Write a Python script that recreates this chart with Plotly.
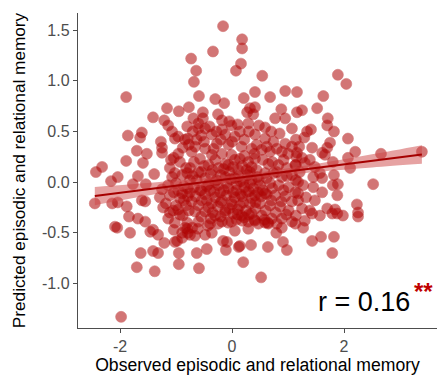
import plotly.graph_objects as go

# ---- data (observed x, predicted y) ----
top_obs = [-0.16, 0.18, 0.18, -0.34, -0.73, 0.16, 0.07, -0.64, -0.68, 0.54, 1.89, 2.04, -1.89, 0.41, 0.95,
           1.16, 1.63, -0.59, -0.30, -0.14, 0.21, 0.68, -0.77, -1.16, -0.95, 0.32, 0.41, 0.27, 0.38, 0.88,
           1.16, 1.25, 1.52, -0.52, -0.25, 0.77, 0.95, -0.52, -0.18, -1.41, -1.21, 1.71, -0.69]
top_pred = [1.54, 1.41, 1.32, 1.29, 1.22, 1.17, 1.10, 1.10, 0.99, 1.05, 1.06, 0.97, 0.84, 0.89, 0.90,
            0.89, 0.85, 0.85, 0.82, 0.78, 0.83, 0.84, 0.74, 0.73, 0.70, 0.73, 0.74, 0.69, 0.67, 0.72,
            0.69, 0.71, 0.73, 0.69, 0.67, 0.63, 0.63, 0.63, 0.61, 0.64, 0.61, 0.63, 0.63]

right_obs = [1.70, 1.82, 1.34, 1.41, 1.29, 2.07, 1.75, 1.70, 1.43, 2.20, 1.61, 1.66, 1.16, 1.25, 1.30,
             1.39, 1.80, 2.07, 2.11, 2.66, 1.48, 1.57, 1.61, 1.45, 1.82, 2.52, 1.89, 1.80, 1.45, 1.18,
             1.61, 1.88, 1.48, 2.23, 1.25, 1.39, 1.43, 1.70, 1.84, 1.79, 1.88, 1.57, 1.98, 2.25, 2.25,
             3.39, 1.27, 1.43, 1.59, 1.82, 1.79,
             1.14, 1.20, 1.14, 1.21, 1.14, 1.27, 1.18, 1.32, 1.14, 1.30]
right_pred = [0.56, 0.50, 0.50, 0.52, 0.44, 0.43, 0.39, 0.34, 0.34, 0.30, 0.29, 0.27, 0.29, 0.24, 0.19,
              0.22, 0.20, 0.24, 0.14, 0.28, 0.15, 0.09, 0.04, 0.05, 0.07, -0.02, -0.02, -0.03, -0.05, -0.11,
              -0.10, -0.13, -0.18, -0.22, -0.26, -0.28, -0.31, -0.26, -0.27, -0.31, -0.31, -0.33, -0.33, -0.30, -0.34,
              0.30, -0.45, -0.58, -0.54, -0.54, -0.70,
              0.42, 0.35, 0.17, 0.10, 0.02, -0.03, -0.18, -0.15, -0.33, -0.38]

bottom_obs = [-0.63, -0.45, -0.59, -0.16, -0.09, -0.11, 0.12, 0.14, 0.34, 0.20, 0.52, 0.64, 0.79, 0.89, 0.91,
              0.98, 1.13, 0.64, 0.59, -0.48,
              -0.84, -0.71, -0.61, -0.43, -0.25, -0.07, 0.18, 0.41, -0.36, 0.05, 0.29, -0.79, -0.66,
              -1.98, -1.70, -1.38, -1.63, -1.41, -1.32, -0.95, -0.95, -1.82, -2.09, -2.05, -1.46, -1.41, -1.32,
              -1.21, -1.02, -0.98, -1.04, -0.89, -0.80, -0.75, -0.89]
bottom_pred = [-0.70, -0.66, -0.85, -0.58, -0.59, -0.67, -0.64, -0.63, -0.62, -0.79, -0.94, -0.64, -0.50, -0.45, -0.59,
               -0.67, -0.41, -0.40, -0.40, -0.52,
               -0.45, -0.45, -0.46, -0.43, -0.41, -0.40, -0.38, -0.38, -0.50, -0.48, -0.46, -0.50, -0.53,
               -1.33, -0.84, -0.88, -0.70, -0.68, -0.70, -0.70, -0.81, -0.50, -0.44, -0.45, -0.49, -0.47, -0.52,
               -0.60, -0.59, -0.58, -0.47, -0.50, -0.46, -0.52, -0.55]

left_obs = [-1.14, -1.07, -0.80, -1.86, -1.64, -1.61, -1.27, -1.25, -1.25, -1.02, -0.96, -0.84, -0.79, -1.70, -1.52,
            -0.96, -1.04, -1.89, -1.59, -2.32, -2.43, -1.11, -1.02, -1.07, -1.39, -1.68, -2.04, -2.16, -1.77, -1.54,
            -0.89, -0.80, -0.75, -1.25, -1.29, -1.04, -0.89, -0.79, -2.04, -2.14, -1.88, -2.45, -1.61, -1.55, -1.23,
            -1.05, -0.96, -1.84, -1.68, -1.55, -1.14, -1.02, -0.88, -0.80,
            -1.14, -1.00, -0.86, -1.11, -0.93, -0.79, -1.18, -1.00, -0.82, -1.11, -0.93, -0.77, -0.82, -0.93,
            -0.88, -0.77, -0.96, -1.09, -0.86]
left_pred = [0.56, 0.50, 0.55, 0.46, 0.44, 0.49, 0.40, 0.34, 0.29, 0.43, 0.45, 0.42, 0.43, 0.31, 0.28,
             0.28, 0.24, 0.21, 0.19, 0.15, 0.10, 0.14, 0.09, 0.05, 0.08, 0.06, 0.05, 0.01, -0.02, -0.02,
             0.07, 0.09, 0.02, -0.07, -0.15, -0.10, -0.11, -0.06, -0.20, -0.21, -0.24, -0.21, -0.18, -0.19, -0.25,
             -0.28, -0.27, -0.34, -0.36, -0.39, -0.36, -0.40, -0.33, -0.40,
             -0.03, -0.01, -0.04, -0.13, -0.16, -0.14, -0.21, -0.23, -0.23, -0.30, -0.32, -0.28, 0.14, 0.20,
             0.34, 0.37, -0.08, 0.22, -0.18]

center_obs = [-0.60, 0.59, 0.29, -0.01, -0.18, -0.48, -0.60, -0.63, -0.36, -0.12, 0.05, 0.14, 0.41, 0.44, 0.59,
              0.74, 0.95, 1.07, 0.89, 0.68, 0.53, 0.35, 0.17, -0.065, -0.27, -0.48, -0.66, -0.57, -0.36, -0.18,
              -0.01, 0.14, 0.29, 0.41, 0.65, 0.83, 0.98, 1.13, 1.15, 1.07, -0.75, -0.60, -0.42, -0.24, -0.065,
              0.11, 0.26, 0.44, 0.59, 0.74, 0.89, 1.07, 1.18, -0.63, -0.48, -0.30, -0.12, 0.05, 0.20, 0.35,
              0.50, 0.68, 0.83, 1.01, 1.13, -0.75, -0.57, -0.39, -0.21, -0.065, 0.08, 0.26, 0.41, 0.59, 0.77,
              0.95, 1.07, -0.72, -0.54, -0.36, -0.18, -0.01, 0.14, 0.32, 0.50, 0.68, 0.86, 1.01, -0.66, -0.48,
              -0.30, -0.12, 0.02, 0.17, 0.35, 0.53, 0.71, 0.89, 1.07, -0.60, -0.39, -0.18, -0.01, 0.29, 0.47,
              0.65]
center_pred = [0.53, 0.54, 0.58, 0.56, 0.52, 0.53, 0.58, 0.42, 0.47, 0.47, 0.45, 0.50, 0.47, 0.37, 0.43,
               0.40, 0.38, 0.35, 0.30, 0.30, 0.32, 0.33, 0.35, 0.37, 0.38, 0.33, 0.35, 0.23, 0.27, 0.28,
               0.27, 0.23, 0.20, 0.23, 0.18, 0.17, 0.14, 0.17, 0.25, 0.53, 0.14, 0.10, 0.17, 0.14, 0.17,
               0.12, 0.12, 0.12, 0.09, 0.09, 0.05, 0.07, 0.00, 0.02, 0.04, 0.00, 0.05, 0.04, 0.00, 0.02,
               -0.03, -0.01, -0.03, -0.05, -0.10, -0.10, -0.08, -0.08, -0.10, -0.06, -0.08, -0.10, -0.13, -0.11, -0.13,
               -0.14, -0.19, -0.19, -0.18, -0.21, -0.18, -0.19, -0.23, -0.21, -0.21, -0.23, -0.24, -0.28, -0.29, -0.29,
               -0.33, -0.28, -0.31, -0.33, -0.31, -0.33, -0.36, -0.36, -0.39, -0.39, -0.41, -0.39, -0.39, -0.39, -0.41,
               -0.41]

core_obs = [-0.70, -0.55, -0.40, -0.28, -0.05, 0.10, 0.30, 0.48, 0.70, 0.85,
            -0.72, -0.50, -0.33, -0.20, 0.00, 0.22, 0.40, 0.62, 0.80, 1.00,
            -0.68, -0.50, -0.30, -0.12, 0.05, 0.22, 0.35, 0.55, 0.72, 0.92,
            -0.70, -0.55, -0.38, -0.20, -0.05, 0.12, 0.28, 0.45, 0.62, 0.80, 0.98,
            -0.68, -0.45, -0.25, -0.10, 0.08, 0.22, 0.38, 0.55, 0.72, 0.92,
            -0.65, -0.48, -0.30, -0.10, 0.05, 0.18, 0.35, 0.52, 0.70, 0.88,
            -0.60, -0.42, -0.25, -0.05, 0.10, 0.25, 0.42, 0.60, 0.78, 0.97,
            -0.55, -0.38, -0.20, 0.08, 0.22, 0.40, 0.58, 0.80]
core_pred = [0.50, 0.46, 0.55, 0.50, 0.60, 0.57, 0.50, 0.56, 0.50, 0.48,
             0.30, 0.40, 0.33, 0.42, 0.40, 0.42, 0.28, 0.35, 0.33, 0.28,
             0.20, 0.16, 0.22, 0.18, 0.22, 0.26, 0.15, 0.22, 0.20, 0.22,
             0.06, 0.10, 0.08, 0.07, 0.10, 0.06, 0.07, 0.05, 0.04, 0.10, 0.06,
             -0.05, -0.04, -0.03, -0.01, -0.02, -0.05, -0.06, -0.08, -0.06, -0.08,
             -0.14, -0.12, -0.15, -0.13, -0.15, -0.14, -0.16, -0.14, -0.18, -0.19,
             -0.23, -0.25, -0.24, -0.26, -0.27, -0.28, -0.26, -0.28, -0.30, -0.32,
             -0.34, -0.36, -0.34, -0.37, -0.35, -0.37, -0.37, -0.41]

dense_obs = [-0.35, -0.15, 0.02, 0.18, 0.32, -0.42, -0.28, -0.02, 0.15, 0.32, 0.48,
             -0.45, -0.20, 0.00, 0.20, 0.42, -0.35, -0.12, 0.10, 0.30,
             -0.55, -0.32, -0.15, 0.02, 0.15, 0.30, 0.46, 0.62]
dense_pred = [0.12, 0.13, 0.15, 0.16, 0.10, -0.02, 0.02, 0.03, 0.01, -0.01, 0.02,
              -0.18, -0.20, -0.22, -0.20, -0.20, -0.30, -0.30, -0.32, -0.32,
              -0.08, -0.10, -0.08, -0.10, -0.12, -0.09, -0.10, -0.12]

# fitted regression line and 95% band
fit_x = [-2.45, -1.5, -0.5, 0.5, 1.5, 2.5, 3.39]
fit_y = [-0.137, -0.07, 0.0, 0.07, 0.14, 0.21, 0.273]
fit_lo = [-0.227, -0.132, -0.038, 0.042, 0.10, 0.145, 0.181]
fit_hi = [-0.047, -0.008, 0.038, 0.098, 0.18, 0.275, 0.365]

obs = top_obs + right_obs + bottom_obs + left_obs + center_obs + core_obs + dense_obs
pred = top_pred + right_pred + bottom_pred + left_pred + center_pred + core_pred + dense_pred

fig = go.Figure()
fig.add_trace(go.Scatter(
    x=obs, y=pred, mode="markers",
    marker=dict(size=11, color="rgb(175,5,5)", opacity=0.55,
                line=dict(width=0.6, color="rgb(175,5,5)")),
    hoverinfo="skip", showlegend=False))
fig.add_trace(go.Scatter(x=fit_x, y=fit_hi, mode="lines", line=dict(width=0, shape="spline"),
                         showlegend=False, hoverinfo="skip"))
fig.add_trace(go.Scatter(x=fit_x, y=fit_lo, mode="lines", line=dict(width=0, shape="spline"),
                         fill="tonexty", fillcolor="rgba(205,70,70,0.5)",
                         showlegend=False, hoverinfo="skip"))
fig.add_trace(go.Scatter(x=fit_x, y=fit_y, mode="lines", line=dict(width=2.2, color="rgb(165,0,0)"),
                         showlegend=False, hoverinfo="skip"))

axis_common = dict(showgrid=False, zeroline=False, showline=True, linecolor="#4d4d4d", linewidth=1.4,
                   ticks="outside", ticklen=4, tickwidth=1.2, tickcolor="#4d4d4d",
                   tickfont=dict(family="Liberation Sans", size=16, color="#4d4d4d"))

fig.update_layout(
    width=437, height=382,
    margin=dict(l=78, r=0, t=13, b=54),
    paper_bgcolor="white", plot_bgcolor="white",
    xaxis=dict(range=[-2.75, 3.66], tickvals=[-2, 0, 2], ticktext=["-2", "0", "2"],
               title=dict(text="Observed episodic and relational memory",
                          font=dict(family="Liberation Sans", size=17.6, color="black"), standoff=4),
               **axis_common),
    yaxis=dict(range=[-1.44, 1.67], tickvals=[-1.0, -0.5, 0.0, 0.5, 1.0, 1.5],
               ticktext=["-1.0", "-0.5", "0.0", "0.5", "1.0", "1.5"],
               title=dict(text="Predicted episodic and relational memory",
                          font=dict(family="Liberation Sans", size=17.2, color="black"), standoff=12),
               **axis_common),
    annotations=[
        dict(x=3.21, y=-1.18, xref="x", yref="y", text="r = 0.16", showarrow=False,
             xanchor="right", yanchor="middle",
             font=dict(family="Liberation Sans", size=27, color="black")),
        dict(x=3.21, y=-1.08, xref="x", yref="y", text="<b>**</b>", showarrow=False,
             xanchor="left", yanchor="middle",
             font=dict(family="Liberation Sans", size=24, color="#c00000")),
    ],
)

fig.write_html("out.html")
